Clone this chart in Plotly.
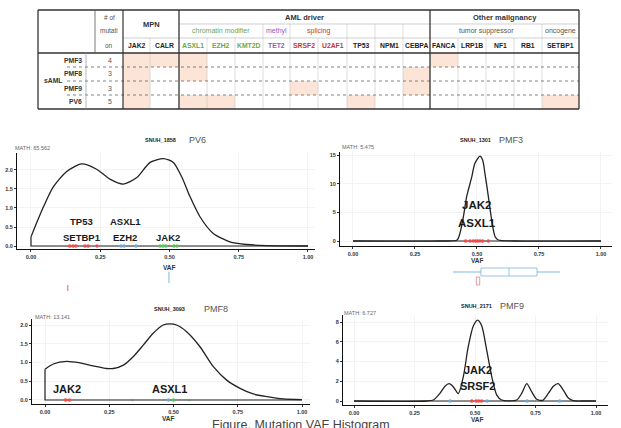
import plotly.graph_objects as go

W, H = 621, 428
def px(x): return x / W
def py(y): return 1 - y / H

# ---------------- table data ----------------
genes = ["JAK2", "CALR", "ASXL1", "EZH2", "KMT2D", "TET2", "SRSF2", "U2AF1", "TP53",
         "NPM1", "CEBPA", "FANCA", "LRP1B", "NF1", "RB1", "SETBP1"]
gene_colors = ["#222", "#222", "#6aa84f", "#6aa84f", "#6aa84f", "#8e5cc4", "#c0392b", "#c0392b",
               "#222", "#222", "#222", "#222", "#222", "#222", "#222", "#222"]
samples = ["PMF3", "PMF8", "PMF9", "PV6"]
n_mutation = ["4", "3", "3", "5"]
mutated = {
    "PMF3": ["JAK2", "CALR", "ASXL1", "FANCA"],
    "PMF8": ["JAK2", "ASXL1", "CEBPA"],
    "PMF9": ["JAK2", "SRSF2", "CEBPA"],
    "PV6": ["JAK2", "ASXL1", "EZH2", "TP53", "SETBP1"],
}
groups = [("MPN", 0, 2), ("AML driver", 2, 11), ("Other malignancy", 11, 16)]
subgroups = [("chromatin modifier", 2, 5, "#6aa84f"), ("methyl", 5, 6, "#8e5cc4"),
             ("splicing", 6, 8, "#c0392b"), ("", 8, 9, "#222"), ("", 9, 10, "#222"),
             ("", 10, 11, "#222"), ("tumor suppressor", 11, 15, "#555"), ("oncogene", 15, 16, "#555")]

# ---------------- density data ----------------
pv6_x = [0.0, 0.045, 0.081, 0.129, 0.183, 0.237, 0.285, 0.333, 0.382, 0.43, 0.478, 0.514,
         0.544, 0.574, 0.61, 0.658, 0.718, 0.779, 0.85, 1.0]
pv6_y = [0.24, 1.03, 1.56, 1.96, 2.16, 2.02, 1.76, 1.63, 1.8, 2.2, 2.3, 2.2,
         1.82, 1.3, 0.77, 0.33, 0.11, 0.04, 0.01, 0.0]
pmf3_x = [0.0, 0.35, 0.42, 0.431, 0.445, 0.458, 0.465, 0.479, 0.492, 0.512, 0.523, 0.532,
          0.546, 0.559, 0.573, 0.586, 0.65, 1.0]
pmf3_y = [0.0, 0.0, 0.17, 1.3, 4.2, 7.7, 8.9, 11.2, 13.6, 14.8, 14.1, 11.8,
          7.7, 3.7, 0.75, 0.17, 0.0, 0.0]
pmf8_x = [0.0, 0.032, 0.084, 0.136, 0.188, 0.24, 0.266, 0.305, 0.344, 0.383, 0.421, 0.46,
          0.486, 0.512, 0.551, 0.603, 0.655, 0.707, 0.759, 0.81, 0.863, 0.927, 1.0]
pmf8_y = [0.82, 0.96, 1.03, 0.99, 0.91, 0.84, 0.84, 0.93, 1.16, 1.47, 1.78, 2.0,
          2.03, 2.0, 1.82, 1.42, 0.89, 0.53, 0.31, 0.16, 0.09, 0.03, 0.01]
pmf9_x = [0.0, 0.3, 0.328, 0.355, 0.376, 0.393, 0.41, 0.431, 0.452, 0.472, 0.493, 0.511,
          0.528, 0.548, 0.569, 0.59, 0.61, 0.672, 0.693, 0.714, 0.734, 0.755, 0.78, 0.803,
          0.824, 0.844, 0.865, 0.886, 0.906, 0.95, 1.0]
pmf9_y = [0.0, 0.0, 0.1, 0.77, 1.5, 1.75, 1.45, 0.75, 2.5, 5.5, 7.6, 8.2,
          7.6, 5.2, 2.5, 0.6, 0.1, 0.1, 0.77, 1.75, 0.94, 0.17, 0.07, 0.77,
          1.5, 1.75, 1.1, 0.3, 0.03, 0.0, 0.0]

# rug points
pv6_red = [0.14, 0.152, 0.162, 0.195, 0.206, 0.238]
pv6_blue = [0.325, 0.336, 0.379]
pv6_green = [0.466, 0.477, 0.487, 0.516, 0.527]
pmf3_red = [0.454, 0.472, 0.485, 0.495, 0.503, 0.512, 0.523, 0.546]
pmf8_red = [0.08, 0.095]
pmf8_blue = [0.48]
pmf8_green = [0.5]
pmf8_faint = [0.34, 0.56]
pmf9_red = [0.487, 0.505, 0.515, 0.527]
pmf9_blue = [0.397, 0.55, 0.715, 0.85]

# gene labels (text, x, y)
pv6_labels = [("TP53", 0.184, 0.64), ("SETBP1", 0.184, 0.23), ("ASXL1", 0.34, 0.64),
              ("EZH2", 0.34, 0.23), ("JAK2", 0.495, 0.23)]
pmf3_labels = [("JAK2", 0.5, 6.3), ("ASXL1", 0.5, 3.1)]
pmf8_labels = [("JAK2", 0.086, 0.29), ("ASXL1", 0.486, 0.29)]
pmf9_labels = [("JAK2", 0.512, 3.1), ("SRSF2", 0.512, 1.5)]

# marginal boxplot (under PMF3 panel)
pmf3_box = [0.403, 0.516, 0.629, 0.742, 0.835]

x_ticks = [0, 0.25, 0.5, 0.75, 1.0]
x_ticklabels = ["0.00", "0.25", "0.50", "0.75", "1.00"]

RED, BLUE, GREEN = "#ef4b4b", "#6aa6e0", "#5cbf5c"
HL = "#fce4d6"

fig = go.Figure()
shapes = []
ann = []

def line(x0, y0, x1, y1, color="#333", width=1.0, dash=None):
    d = dict(type="line", xref="paper", yref="paper", x0=px(x0), y0=py(y0),
             x1=px(x1), y1=py(y1), line=dict(color=color, width=width))
    if dash:
        d["line"]["dash"] = dash
    shapes.append(d)

def text(x, y, s, size=7, color="#222", bold=False, xanchor="center", family="Arial"):
    ann.append(dict(xref="paper", yref="paper", x=px(x), y=py(y), text=s, showarrow=False,
                    xanchor=xanchor, yanchor="middle",
                    font=dict(size=size, color=color, family=family,
                              weight="bold" if bold else "normal")))

# ---------------- table ----------------
col_edges = [123, 150, 179, 207, 235, 263, 290, 318, 347, 375, 403, 430, 458, 486, 514, 542, 579]
row_edges = [53, 67, 81, 95, 109]
T_L, T_R, T_T, T_B = 38, 579, 10, 109

for i, s in enumerate(samples):
    for g in mutated[s]:
        j = genes.index(g)
        shapes.append(dict(type="rect", xref="paper", yref="paper", x0=px(col_edges[j]),
                           x1=px(col_edges[j + 1]), y0=py(row_edges[i]), y1=py(row_edges[i + 1]),
                           fillcolor=HL, line=dict(width=0), layer="below"))

for j in range(1, len(genes)):
    e = col_edges[j]
    if e in (179, 430):
        continue
    line(e, 38, e, T_B, color="#c8c8c8", width=0.6)
for e in (263, 290, 347, 375, 403, 542):
    line(e, 24, e, 38, color="#c8c8c8", width=0.6)
for r in row_edges[1:-1]:
    line(67, r, T_R, r, color="#666", width=0.8, dash="dot")
line(179, 24, T_R, 24, color="#bbb", width=0.7)
line(123, 38, T_R, 38, color="#bbb", width=0.7)
line(T_L, T_T, T_R, T_T, width=1.3)
line(T_L, T_B, T_R, T_B, width=1.3)
line(T_L, T_T, T_L, T_B, width=1.3)
line(T_R, T_T, T_R, T_B, width=1.3)
line(T_L, 53, T_R, 53, width=1.3)
line(123, T_T, 123, T_B, width=1.2)
line(179, T_T, 179, T_B, width=1.3)
line(430, T_T, 430, T_B, width=1.3)
line(95, T_T, 95, 53, color="#555", width=0.8)
line(86, 53, 86, T_B, color="#999", width=0.7)

text(109, 17, "# of", size=6.5, color="#555")
text(109, 31, "mutati", size=6.5, color="#555")
text(109, 45, "on", size=6.5, color="#555")
for name, a, b in groups:
    yy = 24 if name == "MPN" else 17
    text((col_edges[a] + col_edges[b]) / 2, yy, name, size=7.5, bold=True, color="#333")
for name, a, b, c in subgroups:
    if name:
        text((col_edges[a] + col_edges[b]) / 2, 31, name, size=7, color=c)
for j, g in enumerate(genes):
    text((col_edges[j] + col_edges[j + 1]) / 2, 45.5, g, size=6.8, bold=True, color=gene_colors[j])
for i, s in enumerate(samples):
    yc = (row_edges[i] + row_edges[i + 1]) / 2
    text(84, yc, s, size=6.8, bold=True, color="#333", xanchor="right")
    text(110, yc, n_mutation[i], size=7, color="#555")
text(42, 81, "sAML", size=6.8, bold=True, color="#333", xanchor="left")

# ---------------- density panels ----------------
panels = [
    dict(name="PV6", sid="SNUH_1858", math="MATH: 65.562", xd=[17, 315], yd=[153, 249],
         xr=[-0.0505, 1.0253], yr=[-0.079, 2.447], yt=[0, 0.5, 1, 1.5, 2],
         ytl=["0.0", "0.5", "1.0", "1.5", "2.0"], cx=pv6_x, cy=pv6_y, start=True,
         pre=[], rugs=[(pv6_red, RED), (pv6_blue, BLUE), (pv6_green, GREEN)], labels=pv6_labels,
         lsize=9.5, title_pos=(160, 140, 187), math_pos=(13, 148), vaf=(169, 267)),
    dict(name="PMF3", sid="SNUH_1301", math="MATH: 5.475", xd=[340, 612], yd=[152, 246],
         xr=[-0.0524, 1.0444], yr=[-0.873, 15.53], yt=[0, 5, 10, 15],
         ytl=["0", "5", "10", "15"], cx=pmf3_x, cy=pmf3_y, start=False,
         pre=[], rugs=[(pmf3_red, RED)], labels=pmf3_labels, lsize=11.5,
         title_pos=(475, 140, 497), math_pos=(340, 147), vaf=(477, 260)),
    dict(name="PMF8", sid="SNUH_3093", math="MATH: 13.141", xd=[32, 310], yd=[319, 404],
         xr=[-0.0506, 1.0311], yr=[-0.107, 2.16], yt=[0, 0.5, 1, 1.5, 2],
         ytl=["0.0", "0.5", "1.0", "1.5", "2.0"], cx=pmf8_x, cy=pmf8_y, start=True,
         pre=[(pmf8_faint, "#dfe4e8")],
         rugs=[(pmf8_red, RED), (pmf8_blue, BLUE), (pmf8_green, GREEN)],
         labels=pmf8_labels, lsize=11, title_pos=(169, 309, 202), math_pos=(33, 317),
         vaf=(168, 418)),
    dict(name="PMF9", sid="SNUH_2171", math="MATH: 6.727", xd=[343, 608], yd=[315, 405],
         xr=[-0.0455, 1.0496], yr=[-0.405, 8.709], yt=[0, 2, 4, 6, 8],
         ytl=["0", "2", "4", "6", "8"], cx=pmf9_x, cy=pmf9_y, start=False,
         pre=[], rugs=[(pmf9_blue, BLUE), (pmf9_red, RED)], labels=pmf9_labels, lsize=11,
         title_pos=(476, 306, 498), math_pos=(342, 313), vaf=(477, 419)),
]

layout_axes = {}
for k, p in enumerate(panels):
    n = "" if k == 0 else str(k + 1)
    xa, ya = "x" + n, "y" + n
    layout_axes["xaxis" + n] = dict(
        domain=[px(p["xd"][0]), px(p["xd"][1])], range=p["xr"], anchor=ya,
        tickvals=x_ticks, ticktext=x_ticklabels, showline=True, linecolor="#111", linewidth=1,
        ticks="outside", ticklen=2, tickcolor="#333", showgrid=True, gridcolor="#f3f3f3",
        zeroline=False, tickfont=dict(size=5.5, color="#333", family="Arial", weight="bold"))
    layout_axes["yaxis" + n] = dict(
        domain=[py(p["yd"][1]), py(p["yd"][0])], range=p["yr"], anchor=xa,
        tickvals=p["yt"], ticktext=p["ytl"], showline=True, linecolor="#111", linewidth=1,
        ticks="outside", ticklen=2, tickcolor="#333", showgrid=True, gridcolor="#f3f3f3",
        zeroline=False, tickfont=dict(size=5.5, color="#333", family="Arial", weight="bold"))
    for vals, col in p["pre"]:
        fig.add_trace(go.Scatter(x=vals, y=[0] * len(vals), mode="markers",
                                 marker=dict(color=col, size=3, line=dict(width=0)),
                                 xaxis=xa, yaxis=ya, hoverinfo="skip"))
    if p["start"]:
        fig.add_trace(go.Scatter(x=[1.0, 0.0, 0.0], y=[0, 0, p["cy"][0]], mode="lines",
                                 line=dict(color="#222", width=1.2), xaxis=xa, yaxis=ya,
                                 hoverinfo="skip"))
    else:
        fig.add_trace(go.Scatter(x=[0.0, 1.0], y=[0, 0], mode="lines",
                                 line=dict(color="#222", width=1.2), xaxis=xa, yaxis=ya,
                                 hoverinfo="skip"))
    fig.add_trace(go.Scatter(x=p["cx"], y=p["cy"], mode="lines",
                             line=dict(color="#222", width=1.3, shape="spline", smoothing=0.7),
                             xaxis=xa, yaxis=ya, hoverinfo="skip"))
    for vals, col in p["rugs"]:
        fig.add_trace(go.Scatter(x=vals, y=[0] * len(vals), mode="markers",
                                 marker=dict(color=col, size=3.5, line=dict(width=0)),
                                 xaxis=xa, yaxis=ya, hoverinfo="skip"))
    for t, lx, ly in p["labels"]:
        ann.append(dict(xref=xa, yref=ya, x=lx, y=ly, text=t, showarrow=False,
                        xanchor="center", yanchor="middle",
                        font=dict(size=p["lsize"], color="#1a1a1a", family="Arial", weight="bold")))
    tx, ty, tx2 = p["title_pos"]
    text(tx, ty, p["sid"], size=5.5, bold=True, color="#222")
    text(tx2, ty, p["name"], size=9, color="#555", xanchor="left")
    mx, my = p["math_pos"]
    text(mx, my, p["math"], size=5.5, color="#666", xanchor="left")
    vx, vy = p["vaf"]
    text(vx, vy, "VAF", size=6.5, bold=True, color="#333")

# marginal boxplot remnants
b = pmf3_box
shapes.append(dict(type="line", xref="x2", yref="paper", x0=b[0], x1=b[1], y0=py(272), y1=py(272),
                   line=dict(color="#7fb5dc", width=1)))
shapes.append(dict(type="line", xref="x2", yref="paper", x0=b[3], x1=b[4], y0=py(272), y1=py(272),
                   line=dict(color="#7fb5dc", width=1)))
shapes.append(dict(type="rect", xref="x2", yref="paper", x0=b[1], x1=b[3], y0=py(276), y1=py(268),
                   line=dict(color="#7fb5dc", width=0.8), fillcolor="white"))
shapes.append(dict(type="line", xref="x2", yref="paper", x0=b[2], x1=b[2], y0=py(276), y1=py(268),
                   line=dict(color="#7fb5dc", width=0.8)))
shapes.append(dict(type="rect", xref="x2", yref="paper", x0=0.497, x1=0.511, y0=py(285), y1=py(277),
                   line=dict(color="#e88080", width=0.8), fillcolor="white"))
shapes.append(dict(type="line", xref="x", yref="paper", x0=0.498, x1=0.498, y0=py(272), y1=py(283),
                   line=dict(color="#7fb5dc", width=1)))
shapes.append(dict(type="line", xref="x", yref="paper", x0=0.133, x1=0.133, y0=py(285), y1=py(291),
                   line=dict(color="#e05a5a", width=1)))

# caption (cut at bottom edge)
text(301, 425, "Figure. Mutation VAF Histogram", size=12.5, color="#444", family="Arial")

fig.update_layout(
    width=W, height=H, autosize=False, margin=dict(l=0, r=0, t=0, b=0),
    paper_bgcolor="white", plot_bgcolor="white", showlegend=False,
    shapes=shapes, annotations=ann, **layout_axes)

fig.write_html("out.html", config={"displayModeBar": False},
               post_script="document.body.style.margin='0px';document.body.style.padding='0px';")
